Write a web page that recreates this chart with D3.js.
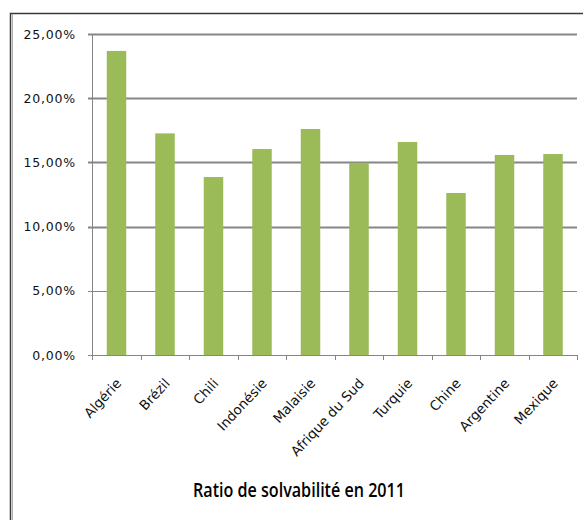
<!DOCTYPE html>
<html>
<head>
<meta charset="utf-8">
<script src="https://cdn.jsdelivr.net/npm/d3@7"></script>
<style>
  body { margin: 0; background: #fff; }
  svg { display: block; }
</style>
</head>
<body>
<div id="chart"></div>
<script>
// values
const countries = ['Algérie', 'Brézil', 'Chili', 'Indonésie', 'Malaisie', 'Afrique du Sud', 'Turquie', 'Chine', 'Argentine', 'Mexique'];
const ratios = [0.2368, 0.1726, 0.1386, 0.1604, 0.1760, 0.1497, 0.1659, 0.1262, 0.1558, 0.1565];
const yTicks = [0, 0.05, 0.10, 0.15, 0.20, 0.25];
const title = 'Ratio de solvabilité en 2011';

const W = 583, H = 520;
const margin = { top: 34, right: 6, bottom: 165, left: 92 };
const width = W - margin.left - margin.right;
const height = H - margin.top - margin.bottom;

const svg = d3.select('#chart').append('svg')
  .attr('width', W)
  .attr('height', H);

// outer frame (only top and left edges visible)
svg.append('rect')
  .attr('x', 10.5).attr('y', 13.5)
  .attr('width', W + 10).attr('height', H + 10)
  .attr('fill', 'none')
  .attr('stroke', '#3a3a3a')
  .attr('stroke-width', 1.5);
svg.append('line')
  .attr('x1', 12.5).attr('x2', 12.5).attr('y1', 14).attr('y2', H)
  .attr('stroke', '#b0b0b0');

const chart = svg.append('g')
  .attr('transform', `translate(${margin.left}, ${margin.top})`);

const xTicks = d3.scaleLinear().domain([0, countries.length]).range([0, width]);
const yScale = d3.scaleLinear().domain([0, 0.25]).range([height, 0]);

// gridlines
chart.append('g')
  .selectAll('line')
  .data(yTicks)
  .enter().append('line')
  .attr('x1', -4)
  .attr('x2', width)
  .attr('y1', d => Math.round(yScale(d)) + 0.5)
  .attr('y2', d => Math.round(yScale(d)) + 0.5)
  .attr('stroke', '#868686')
  .attr('stroke-width', d => d >= 0.1 ? 2 : 1.2);

// y axis line
chart.append('line')
  .attr('x1', 0.5).attr('x2', 0.5)
  .attr('y1', 0).attr('y2', height)
  .attr('stroke', '#868686');

// y labels
const fmt = d => d3.format('.2f')(d * 100).replace('.', ',') + '%';
chart.append('g')
  .selectAll('text')
  .data(yTicks)
  .enter().append('text')
  .attr('x', -16)
  .attr('y', d => yScale(d) + 4.5)
  .attr('text-anchor', 'end')
  .attr('font-family', 'DejaVu Sans, sans-serif')
  .attr('font-size', 12.5)
  .attr('letter-spacing', 0.8)
  .attr('fill', '#111')
  .text(fmt);

// x tick marks
chart.append('g')
  .selectAll('line')
  .data(d3.range(countries.length + 1))
  .enter().append('line')
  .attr('x1', d => Math.round(xTicks(d)) + 0.5)
  .attr('x2', d => Math.round(xTicks(d)) + 0.5)
  .attr('y1', height)
  .attr('y2', height + 5)
  .attr('stroke', '#868686');

// bars
chart.selectAll('rect.bar')
  .data(ratios)
  .enter().append('rect')
  .attr('class', 'bar')
  .attr('x', (d, i) => xTicks(i + 0.5) - 9.5)
  .attr('width', 19.5)
  .attr('y', d => yScale(d))
  .attr('height', d => height - yScale(d))
  .attr('fill', '#9bbb59');

// category labels
chart.append('g')
  .selectAll('text')
  .data(countries)
  .enter().append('text')
  .attr('transform', (d, i) => `translate(${xTicks(i + 0.5) + 6}, ${height + 29}) rotate(-47)`)
  .attr('text-anchor', 'end')
  .attr('font-family', 'DejaVu Sans, sans-serif')
  .attr('font-size', 13.5)
  .attr('fill', '#111')
  .text(d => d);

// title
svg.append('text')
  .attr('x', 299)
  .attr('y', 497)
  .attr('text-anchor', 'middle')
  .attr('font-family', 'Open Sans, sans-serif')
  .attr('font-size', 19)
  .attr('font-weight', 600)
  .attr('textLength', 212)
  .attr('lengthAdjust', 'spacingAndGlyphs')
  .attr('fill', '#000')
  .text(title);
</script>
</body>
</html>
